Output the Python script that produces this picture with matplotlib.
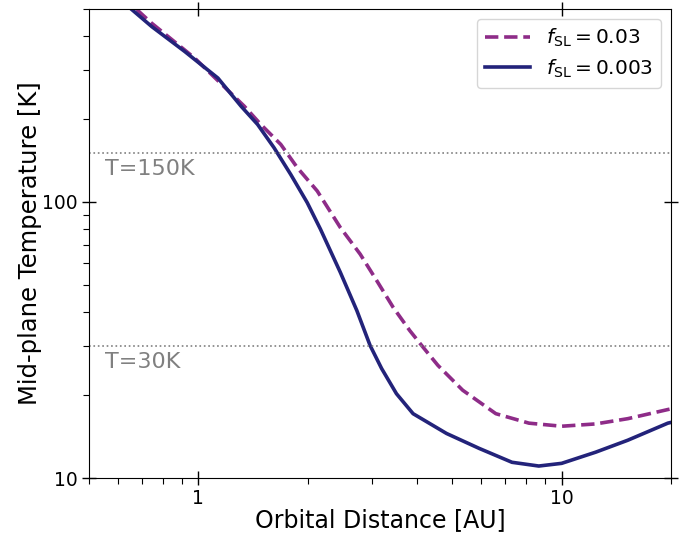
import matplotlib
matplotlib.use("Agg")
import matplotlib.pyplot as plt
from matplotlib.ticker import FuncFormatter, NullFormatter, LogLocator

# Data (AU, K)
r_003 = [0.677, 0.744, 0.977, 1.338, 1.486, 1.686, 1.873, 2.124, 2.459, 2.789,
         3.097, 3.438, 3.819, 4.152, 4.563, 5.34, 6.59, 8.13, 10.0, 12.4,
         15.2, 19.6, 20.0]
T_003 = [497.6, 444, 331.9, 222.2, 190.8, 161.6, 133.0, 109.6, 80.8, 64.7,
         51.9, 41.5, 34.2, 29.8, 25.6, 20.8, 17.1, 15.8, 15.4, 15.7,
         16.4, 17.7, 17.8]

r_0003 = [0.656, 0.744, 0.917, 1.132, 1.311, 1.456, 1.616, 1.795, 1.994, 2.168,
          2.459, 2.731, 2.970, 3.196, 3.51, 3.90, 4.82, 5.93, 7.30, 8.65,
          10.0, 12.4, 15.2, 19.6, 20.0]
T_0003 = [497.6, 431.9, 350.9, 281.0, 222.2, 190.8, 157.1, 125.9, 99.4, 79.7,
          55.6, 40.4, 30.2, 24.9, 20.2, 17.1, 14.5, 12.8, 11.4, 11.05,
          11.3, 12.4, 13.7, 15.8, 15.9]

labels = [r"$f_{\rm SL} = 0.03$", r"$f_{\rm SL} = 0.003$"]
ref_T = [150, 30]
ref_labels = ["T=150K", "T=30K"]

fig = plt.figure(figsize=(6.92, 5.35), dpi=100)
ax = fig.add_axes([89/692, 1-478/535, (671-89)/692, (478-9)/535])

ax.plot(r_003, T_003, ls="--", color="#8e2c88", lw=2.6, label=labels[0])
ax.plot(r_0003, T_0003, ls="-", color="#23237a", lw=2.6, label=labels[1])

for T, lab in zip(ref_T, ref_labels):
    ax.axhline(T, color="gray", ls=":", lw=1.2)
    ax.text(0.555, T*0.95, lab, color="gray", fontsize=16, va="top", ha="left")

ax.set_xscale("log")
ax.set_yscale("log")
ax.set_xlim(0.5, 20)
ax.set_ylim(10, 500)

fmt = FuncFormatter(lambda v, p: f"{v:g}")
ax.xaxis.set_major_formatter(fmt)
ax.yaxis.set_major_formatter(fmt)
ax.xaxis.set_minor_formatter(NullFormatter())
ax.yaxis.set_minor_formatter(NullFormatter())
ax.xaxis.set_minor_locator(LogLocator(subs=range(2, 10)))
ax.yaxis.set_minor_locator(LogLocator(subs=range(2, 10)))

ax.tick_params(which="major", direction="inout", length=10, width=1,
               top=True, right=True, labelsize=13.5, pad=3)
ax.tick_params(which="minor", direction="out", length=4, width=0.8,
               top=False, right=False)

ax.set_xlabel("Orbital Distance [AU]", fontsize=17, labelpad=0)
ax.set_ylabel("Mid-plane Temperature [K]", fontsize=17.5, labelpad=0)

ax.legend(loc="upper right", fontsize=14.5, handlelength=2.2, labelspacing=0.4)

fig.savefig("out.png", dpi=100)
